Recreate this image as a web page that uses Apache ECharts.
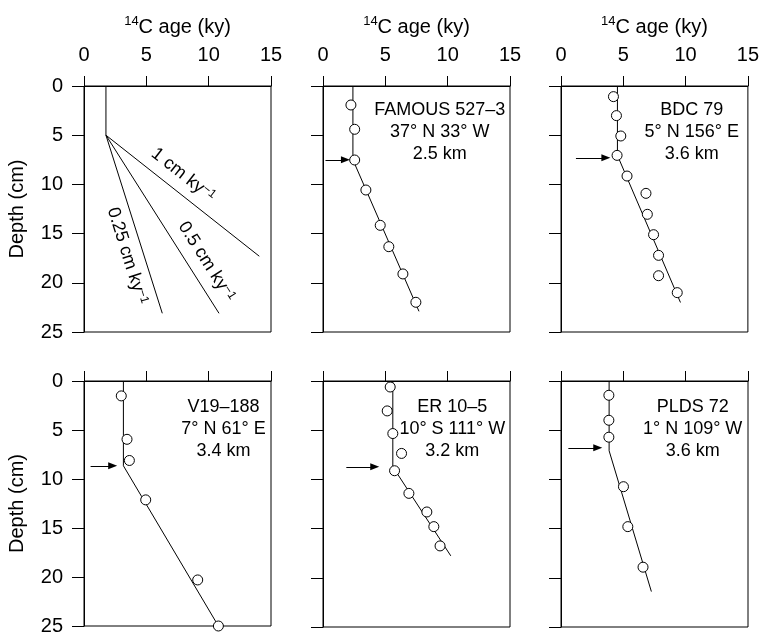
<!DOCTYPE html>
<html><head><meta charset="utf-8">
<script src="https://cdn.jsdelivr.net/npm/echarts/dist/echarts.min.js"></script>
<style>html,body{margin:0;padding:0;background:#fff}#c{width:762px;height:636px}</style>
</head><body><div id="c"></div>
<script>
// ---------- data ----------
const ageTicks = [0, 5, 10, 15];
const depthTicks = [0, 5, 10, 15, 20, 25];

// Panel A: mixing model
const mixAge = [1.76, 1.76];           const mixDepth = [0, 5];
const rate1Age = [1.76, 14.06];        const rate1Depth = [5, 17.3];
const rate05Age = [1.76, 10.83];       const rate05Depth = [5, 23.1];
const rate025Age = [1.76, 6.28];       const rate025Depth = [5, 23.1];
const rateLabels = ['1 cm ky{s|−1}', '0.5 cm ky{s|−1}', '0.25 cm ky{s|−1}'];
const rateLabelAge = [7.96, 9.83, 3.47];
const rateLabelDepth = [9.04, 17.85, 17.28];
const rateLabelAngle = [-38, -57.6, -72.5];

// FAMOUS 527-3
const famousText = ['FAMOUS 527–3', '37° N 33° W', '2.5 km'];
const famousAge = [2.24, 2.54, 2.54, 3.44, 4.59, 5.28, 6.41, 7.45];
const famousDepth = [1.93, 4.40, 7.52, 10.57, 14.16, 16.33, 19.1, 21.98];
const famousFitAge = [2.4, 2.4, 7.7];
const famousFitDepth = [0, 7.5, 22.9];
const famousArrow = [0.2, 1.8, 7.5];   // from age, to age (head centre), depth

// BDC 79
const bdcText = ['BDC 79', '5° N 156° E', '3.6 km'];
const bdcAge = [4.21, 4.45, 4.80, 4.50, 5.30, 6.82, 6.93, 7.43, 7.83, 7.83, 9.33];
const bdcDepth = [1.08, 3.01, 5.08, 7.05, 9.15, 10.91, 13.04, 15.11, 17.21, 19.28, 21.0];
const bdcFitAge = [4.53, 4.53, 9.59];
const bdcFitDepth = [0, 7.05, 22.0];
const bdcArrow = [1.2, 3.6, 7.3];

// V19-188
const v19Text = ['V19–188', '7° N 61° E', '3.4 km'];
const v19Age = [2.99, 3.45, 3.64, 4.95, 9.12, 10.78];
const v19Depth = [1.52, 5.95, 8.11, 12.13, 20.30, 25.0];
const v19FitAge = [3.16, 3.16, 10.78];
const v19FitDepth = [0, 8.65, 25];
const v19Arrow = [0.53, 2.3, 8.65];

// ER 10-5
const erText = ['ER 10–5', '10° S 111° W', '3.2 km'];
const erAge = [5.39, 5.15, 5.60, 6.30, 5.74, 6.89, 8.33, 8.89, 9.39];
const erDepth = [0.61, 3.04, 5.34, 7.36, 9.12, 11.42, 13.31, 14.80, 16.76];
const erFitAge = [5.60, 5.60, 10.25];
const erFitDepth = [0, 8.72, 17.77];
const erArrow = [1.87, 4.15, 8.72];

// PLDS 72
const pldsText = ['PLDS 72', '1° N 109° W', '3.6 km'];
const pldsAge = [3.84, 3.84, 3.84, 5.01, 5.36, 6.58];
const pldsDepth = [1.45, 3.99, 5.71, 10.74, 14.80, 18.92];
const pldsFitAge = [3.86, 3.86, 7.25];
const pldsFitDepth = [0, 7.09, 21.4];
const pldsArrow = [0.59, 2.95, 6.79];

// text anchor positions (age, depth)
const stationTextPos = [null, [9.37, 4.67], [10.5, 4.67], [11.19, 4.9], [10.37, 4.9], [10.56, 4.9]];

// ---------- build ----------
const FONT = "'Liberation Sans', Arial, Helvetica, sans-serif";
const zip = (a, b) => a.map((v, i) => [v, b[i]]);
const chart = echarts.init(document.getElementById('c'), null, {renderer: 'canvas'});

const gridLeft = [84, 323, 561];
const gridTop = [86, 381];
const grids = [], xAxes = [], yAxes = [];
for (let r = 0; r < 2; r++) for (let c = 0; c < 3; c++) {
  const i = r * 3 + c;
  grids.push({left: gridLeft[c], top: gridTop[r], width: 187, height: 246, show: true,
    borderColor: '#000', borderWidth: 1, backgroundColor: 'transparent', containLabel: false});
  xAxes.push({gridIndex: i, type: 'value', position: 'top', min: ageTicks[0], max: ageTicks[ageTicks.length-1], interval: 5,
    axisLine: {show: true, onZero: false, lineStyle: {color: '#000', width: 1}},
    axisTick: {show: true, inside: false, length: 10, lineStyle: {color: '#000', width: 1}},
    axisLabel: {show: r === 0, margin: 21, fontSize: 20, color: '#000', fontFamily: FONT, showMinLabel: true, showMaxLabel: true},
    splitLine: {show: false},
    name: r === 0 ? '{s|14}{n|C age (ky)}' : '', nameLocation: 'middle', nameGap: 47,
    nameTextStyle: {color: '#000', fontFamily: FONT, fontSize: 20,
      rich: {s: {fontSize: 13, fontFamily: FONT, color: '#000', verticalAlign: 'top', lineHeight: 13},
             n: {fontSize: 20, fontFamily: FONT, color: '#000', lineHeight: 24}}}
  });
  yAxes.push({gridIndex: i, type: 'value', inverse: true, min: depthTicks[0], max: depthTicks[depthTicks.length-1], interval: 5,
    axisLine: {show: true, onZero: false, lineStyle: {color: '#000', width: 1}},
    axisTick: {show: true, inside: false, length: 12, lineStyle: {color: '#000', width: 1}},
    axisLabel: {show: c === 0, margin: 21, fontSize: 20, color: '#000', fontFamily: FONT, showMinLabel: true, showMaxLabel: true},
    splitLine: {show: false},
    name: c === 0 ? 'Depth (cm)' : '', nameLocation: 'middle', nameGap: 57,
    nameTextStyle: {color: '#000', fontFamily: FONT, fontSize: 20}
  });
}

const series = [];
function lineSeries(i, data, arrow) {
  const s = {type: 'line', xAxisIndex: i, yAxisIndex: i, data: data, showSymbol: false, symbol: 'none',
    lineStyle: {color: '#000', width: 1}, silent: true, z: 2, clip: false};
  if (arrow) {
    s.markLine = {silent: true, symbol: ['none', 'triangle'], symbolSize: [7, 9], symbolRotate: -90, label: {show: false},
      itemStyle: {color: '#000'},
      lineStyle: {color: '#000', width: 1, type: 'solid'},
      data: [[{coord: [arrow[0], arrow[2]]}, {coord: [arrow[1], arrow[2]]}]]};
  }
  series.push(s);
}
function pointSeries(i, data) {
  series.push({type: 'scatter', xAxisIndex: i, yAxisIndex: i, data: data, symbol: 'circle', symbolSize: 10,
    itemStyle: {color: '#fff', borderColor: '#000', borderWidth: 1, opacity: 1}, silent: true, z: 3, clip: false});
}
function textSeries(i, pos, lines) {
  series.push({type: 'scatter', xAxisIndex: i, yAxisIndex: i, data: [pos], symbolSize: 1,
    itemStyle: {color: 'rgba(0,0,0,0)', opacity: 1}, silent: true, z: 4,
    label: {show: true, position: 'inside', formatter: lines.join('\n'), fontSize: 18, lineHeight: 22,
      color: '#000', fontFamily: FONT, align: 'center', verticalAlign: 'middle'}});
}

// panel A
lineSeries(0, zip(mixAge, mixDepth));
lineSeries(0, zip(rate1Age, rate1Depth));
lineSeries(0, zip(rate05Age, rate05Depth));
lineSeries(0, zip(rate025Age, rate025Depth));
rateLabels.forEach((t, k) => {
  series.push({type: 'scatter', xAxisIndex: 0, yAxisIndex: 0, data: [[rateLabelAge[k], rateLabelDepth[k]]], symbolSize: 1,
    itemStyle: {color: 'rgba(0,0,0,0)', opacity: 1}, silent: true, z: 4,
    label: {show: true, position: 'inside', formatter: t, rotate: rateLabelAngle[k], fontSize: 18, color: '#000', fontFamily: FONT,
      rich: {s: {fontSize: 12, fontFamily: FONT, color: '#000', verticalAlign: 'top', lineHeight: 12}}}});
});

const panels = [
  [1, famousFitAge, famousFitDepth, famousAge, famousDepth, famousArrow, famousText],
  [2, bdcFitAge, bdcFitDepth, bdcAge, bdcDepth, bdcArrow, bdcText],
  [3, v19FitAge, v19FitDepth, v19Age, v19Depth, v19Arrow, v19Text],
  [4, erFitAge, erFitDepth, erAge, erDepth, erArrow, erText],
  [5, pldsFitAge, pldsFitDepth, pldsAge, pldsDepth, pldsArrow, pldsText]
];
panels.forEach(p => {
  lineSeries(p[0], zip(p[1], p[2]), p[5]);
  pointSeries(p[0], zip(p[3], p[4]));
  textSeries(p[0], stationTextPos[p[0]], p[6]);
});

chart.setOption({animation: false, backgroundColor: '#fff', grid: grids, xAxis: xAxes, yAxis: yAxes, series: series});
</script></body></html>
